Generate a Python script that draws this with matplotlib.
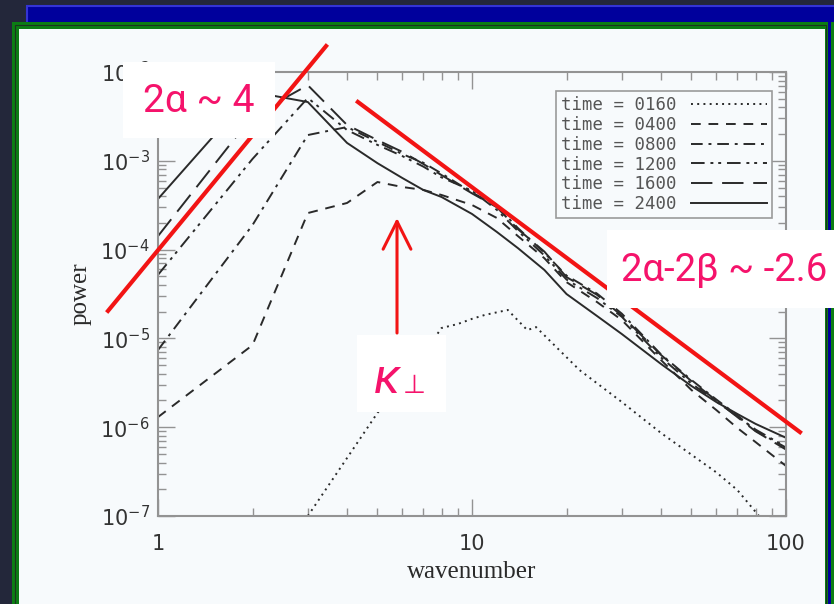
import matplotlib
matplotlib.use('Agg')
import matplotlib.pyplot as plt
from matplotlib.patches import Rectangle
from matplotlib.ticker import LogLocator, NullFormatter

W, H = 834, 604

# wavenumber grid shared by the five upper curves
k = [1, 2, 3, 4, 5, 6, 7, 8, 10, 12, 14, 17, 20, 25, 30, 40, 50, 60, 70, 80, 100]

p_0400 = [1.30e-6, 8.4e-6, 2.58e-4, 3.35e-4, 5.77e-4, 5.07e-4, 4.7e-4, 4.12e-4, 3.18e-4,
          2.27e-4, 1.42e-4, 8.0e-5, 4.3e-5, 2.57e-5, 1.61e-5, 5.7e-6, 2.62e-6, 1.56e-6,
          9.8e-7, 6.8e-7, 3.66e-7]
p_0800 = [7.4e-6, 1.89e-4, 1.95e-3, 2.40e-3, 1.63e-3, 1.19e-3, 9.5e-4, 7.2e-4, 4.4e-4,
          3.1e-4, 1.75e-4, 9.2e-5, 5.1e-5, 3.2e-5, 1.9e-5, 6.6e-6, 3.4e-6, 2.05e-6,
          1.36e-6, 9.1e-7, 5.9e-7]
p_1200 = [5.2e-5, 1.05e-3, 5.1e-3, 2.22e-3, 1.51e-3, 1.13e-3, 8.6e-4, 6.5e-4, 4.6e-4,
          2.8e-4, 1.62e-4, 8.6e-5, 4.6e-5, 2.85e-5, 1.75e-5, 6.1e-6, 3.1e-6, 1.95e-6,
          1.32e-6, 9.4e-7, 6.0e-7]
p_1600 = [1.42e-4, 3.2e-3, 7.1e-3, 2.53e-3, 1.71e-3, 1.26e-3, 9.2e-4, 6.9e-4, 4.3e-4,
          3.0e-4, 1.7e-4, 9.5e-5, 4.9e-5, 3.1e-5, 1.8e-5, 6.5e-6, 3.3e-6, 2.0e-6,
          1.30e-6, 9.0e-7, 5.6e-7]
p_2400 = [3.72e-4, 5.96e-3, 4.59e-3, 1.59e-3, 9.4e-4, 6.4e-4, 4.69e-4, 3.91e-4, 2.52e-4,
          1.58e-4, 1.04e-4, 5.9e-5, 3.16e-5, 1.79e-5, 1.12e-5, 5.15e-6, 2.91e-6, 1.92e-6,
          1.41e-6, 1.09e-6, 7.6e-7]

# earliest time has its own grid
k_0160 = [3, 4, 5, 6, 7, 8, 9, 10, 11, 13, 15, 16, 22, 30, 40, 50, 60, 70, 85]
p_0160 = [1.0e-7, 4.5e-7, 1.45e-6, 3.15e-6, 6.7e-6, 1.31e-5, 1.45e-5, 1.66e-5, 1.84e-5,
          2.09e-5, 1.24e-5, 1.34e-5, 4.4e-6, 1.92e-6, 8.6e-7, 4.9e-7, 3.1e-7, 1.96e-7, 8.6e-8]

labels = ['time = 0160', 'time = 0400', 'time = 0800',
          'time = 1200', 'time = 1600', 'time = 2400']

# red guide lines (data coordinates)
guide1_k = [0.693, 3.43]
guide1_p = [2.04e-5, 1.96e-2]
guide2_k = [4.33, 110.8]
guide2_p = [4.6e-3, 8.8e-7]
arrow_k = 5.77
arrow_p = [1.15e-5, 2.27e-4]

PANEL = '#f7fafc'
PINK = '#f5136b'
RED = '#f21414'
GRAY = '#939393'
INK = '#2a2a2a'

fig = plt.figure(figsize=(W / 100, H / 100), dpi=100)
fig.patch.set_facecolor('#23273a')


def fig_rect(x0, y0, x1, y1, **kw):
    r = Rectangle((x0 / W, 1 - y1 / H), (x1 - x0) / W, (y1 - y0) / H,
                  transform=fig.transFigure, **kw)
    fig.add_artist(r)
    return r


# slide frame
fig_rect(27, 6, 845, 620, facecolor='#00009c', edgecolor='#3434d4', lw=1.5, zorder=-10)
fig_rect(12, 22, 828, 620, facecolor='#0c7d14', edgecolor='none', zorder=-9)
fig_rect(14.5, 24.5, 826, 620, facecolor='none', edgecolor='#1d3320', lw=0.8, zorder=-8)
fig_rect(19, 29, 825, 620, facecolor=PANEL, edgecolor='none', zorder=-7)
fig_rect(830.5, 22, 833.5, 620, facecolor='#0c7d14', edgecolor='none', zorder=-7)

ax = fig.add_axes([158 / W, 1 - 516 / H, 628 / W, 444 / H])
ax.set_facecolor(PANEL)

styles = [(0, (1, 2.2)), (0, (5, 4)), (0, (6, 3, 1.5, 3)),
          (0, (7, 3, 1.5, 2.5, 1.5, 3)), (0, (11, 5)), '-']
series = [(k_0160, p_0160), (k, p_0400), (k, p_0800), (k, p_1200), (k, p_1600), (k, p_2400)]
for (kk, pp), ls, lab in zip(series, styles, labels):
    ax.plot(kk, pp, ls=ls, color=INK, lw=1.4, label=lab)

ax.set_xscale('log')
ax.set_yscale('log')
ax.set_xlim(1, 100)
ax.set_ylim(1e-7, 1e-2)

ax.set_xticks([1, 10, 100])
ax.set_xticklabels(['1', '10', '100'])
ax.set_yticks([1e-7, 1e-6, 1e-5, 1e-4, 1e-3, 1e-2])
ax.set_yticklabels([r'$10^{-7}$', r'$10^{-6}$', r'$10^{-5}$', r'$10^{-4}$',
                    r'$10^{-3}$', r'$10^{-2}$'])
ax.xaxis.set_minor_locator(LogLocator(base=10, subs=range(2, 10)))
ax.yaxis.set_minor_locator(LogLocator(base=10, subs=range(2, 10), numticks=20))
ax.xaxis.set_minor_formatter(NullFormatter())
ax.yaxis.set_minor_formatter(NullFormatter())
ax.tick_params(which='both', direction='in', top=True, right=True, color=GRAY,
               width=1.0, labelsize=15, labelcolor='#333333')
ax.tick_params(which='major', length=12)
ax.tick_params(which='minor', length=6)
ax.tick_params(axis='x', pad=13)
ax.tick_params(axis='y', pad=6)
for s in ax.spines.values():
    s.set_color(GRAY)
    s.set_linewidth(1.5)

ax.set_xlabel('wavenumber', family='Liberation Serif', fontsize=18, color=INK, labelpad=5)
ax.set_ylabel('power', family='Liberation Serif', fontsize=18, color=INK, labelpad=6)

leg = ax.legend(loc='upper right', bbox_to_anchor=(0.978, 0.957), borderaxespad=0,
                markerfirst=False, prop={'family': 'DejaVu Sans Mono', 'size': 12.5},
                handlelength=4.4, handletextpad=0.8,
                labelspacing=0.1, borderpad=0.3, fancybox=False, framealpha=1,
                facecolor=PANEL, edgecolor='#9a9a9a')
leg.get_frame().set_linewidth(1.2)
for t in leg.get_texts():
    t.set_color('#555555')

# red guide lines and arrow
ax.plot(guide1_k, guide1_p, color=RED, lw=3, clip_on=False, zorder=5)
ax.plot(guide2_k, guide2_p, color=RED, lw=3, clip_on=False, zorder=5)
ax.annotate('', xy=(arrow_k, arrow_p[1]), xytext=(arrow_k, arrow_p[0]),
            arrowprops=dict(arrowstyle='->,head_length=1.0,head_width=0.5',
                            color=RED, lw=2.2, mutation_scale=20,
                            shrinkA=0, shrinkB=0), zorder=5)

# white label boxes on top of everything
fig_rect(123, 62, 275, 138, facecolor='white', edgecolor='none', zorder=20)
fig_rect(607, 230, 845, 308, facecolor='white', edgecolor='none', zorder=20)
fig_rect(357, 335, 446, 412, facecolor='white', edgecolor='none', zorder=20)

fig.text(143 / W, 1 - 102 / H, '2α ~ 4', family=['Roboto', 'DejaVu Sans'],
         fontsize=28, color=PINK, va='center', ha='left', zorder=21)
fig.text(621 / W, 1 - 271 / H, '2α-2β ~ -2.6', family=['Roboto', 'DejaVu Sans'],
         fontsize=27.5, color=PINK, va='center', ha='left', zorder=21)
fig.text(374 / W, 1 - 393 / H, 'κ', family=['Roboto', 'DejaVu Sans'], style='italic',
         fontsize=36, color=PINK, va='baseline', ha='left', zorder=21)
fig.text(403 / W, 1 - 393 / H, '⊥', family=['DejaVu Sans'],
         fontsize=19, color=PINK, va='baseline', ha='left', zorder=21)

fig.savefig('out.png', dpi=100, facecolor=fig.get_facecolor())
